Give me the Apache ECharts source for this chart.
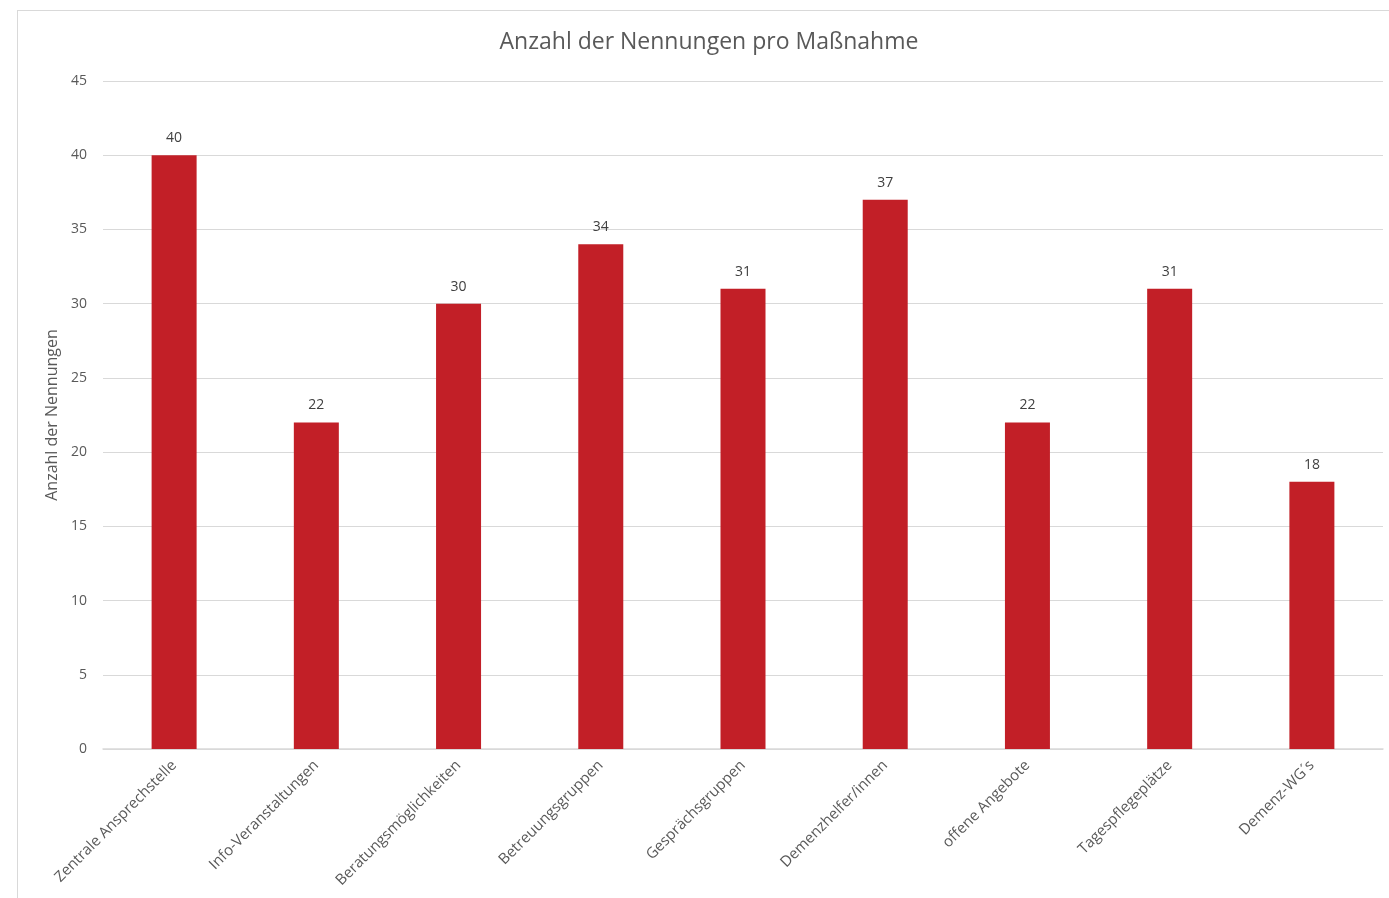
<!DOCTYPE html>
<html>
<head>
<meta charset="utf-8">
<script src="https://cdn.jsdelivr.net/npm/echarts@6/dist/echarts.min.js"></script>
<style>
html,body{margin:0;padding:0;background:#fff;width:1389px;height:898px;overflow:hidden;}
#frame{position:absolute;left:17px;top:10px;width:1400px;height:900px;border:1px solid #d9d9d9;box-sizing:border-box;}
#chart{position:absolute;left:0;top:0;width:1389px;height:898px;}
</style>
</head>
<body>
<div id="frame"></div>
<div id="chart"></div>
<script>
const categories = ["Zentrale Ansprechstelle","Info-Veranstaltungen","Beratungsmöglichkeiten","Betreuungsgruppen","Gesprächsgruppen","Demenzhelfer/innen","offene Angebote","Tagespflegeplätze","Demenz-WG´s"];
const values = [40,22,30,34,31,37,22,31,18];
const titleText = "Anzahl der Nennungen pro Maßnahme";
const yAxisName = "Anzahl der Nennungen";

const chart = echarts.init(document.getElementById('chart'));
const font = "'Open Sans', 'Liberation Sans', sans-serif";
chart.setOption({
  animation:false,
  textStyle:{fontFamily:font},
  title:{text:titleText,left:704,textAlign:'center',top:26,textStyle:{fontSize:23,fontWeight:'normal',color:'#595959',fontFamily:font}},
  grid:{left:103,right:6,top:81,bottom:149,containLabel:false},
  xAxis:{type:'category',data:categories,
    axisLine:{lineStyle:{color:'#d9d9d9',width:1.5}},axisTick:{show:false},
    axisLabel:{rotate:45,interval:0,color:'#595959',fontSize:15,fontFamily:font,margin:14}},
  yAxis:{type:'value',min:0,max:45,interval:5,name:yAxisName,nameLocation:'middle',nameGap:41,
    nameTextStyle:{color:'#595959',fontSize:16,fontFamily:font},
    axisLine:{show:false},axisTick:{show:false},
    axisLabel:{color:'#595959',fontSize:14,fontFamily:font,margin:16},
    splitLine:{lineStyle:{color:'#d9d9d9',width:1}}},
  series:[{type:'bar',data:values,barWidth:45,itemStyle:{color:'#c21f27'},
    label:{show:true,position:'top',distance:10,color:'#404040',fontSize:14,fontFamily:font}}]
});
</script>
</body>
</html>
